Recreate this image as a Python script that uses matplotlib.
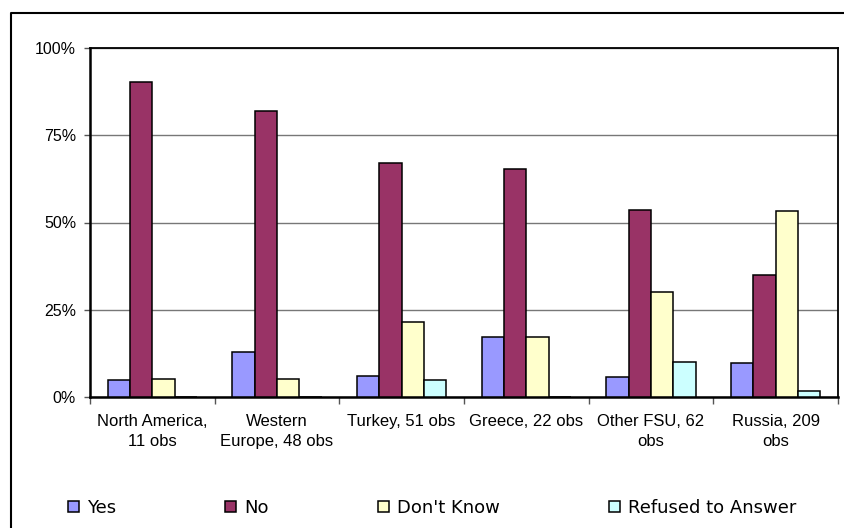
import numpy as np
import matplotlib.pyplot as plt
from matplotlib.lines import Line2D
from matplotlib.ticker import FixedLocator, PercentFormatter

plt.rcParams['font.family'] = ['Liberation Sans', 'DejaVu Sans']

regions = ['North America,\n11 obs', 'Western\nEurope, 48 obs', 'Turkey, 51 obs',
           'Greece, 22 obs', 'Other FSU, 62\nobs', 'Russia, 209\nobs']
answers = ['Yes', 'No', "Don't Know", 'Refused to Answer']
yes = [4.9, 12.8, 6.1, 17.2, 5.6, 9.6]
no = [90.3, 81.9, 67.0, 65.2, 53.7, 35.0]
dont_know = [5.2, 5.2, 21.6, 17.2, 30.2, 53.3]
refused = [0.0, 0.0, 4.9, 0.0, 10.1, 1.7]
colors = ['#9999FF', '#993366', '#FFFFCC', '#CCFFFF']

fig = plt.figure(figsize=(8.45, 5.28), dpi=100)
ax = fig.add_axes([90/845, 1 - 397/528, (838 - 90)/845, (397 - 48)/528])

x = np.arange(len(regions))
w = 0.179
series = [yes, no, dont_know, refused]
for i, (vals, c, lab) in enumerate(zip(series, colors, answers)):
    ax.bar(x + (i - 1.5) * w, vals, width=w, color=c, edgecolor='black',
           linewidth=1.1, label=lab, zorder=3)

ax.set_xlim(-0.5, len(regions) - 0.5)
ax.set_ylim(0, 100)
ax.set_yticks([0, 25, 50, 75, 100])
ax.yaxis.set_major_formatter(PercentFormatter(decimals=0))
ax.tick_params(axis='y', length=4, width=1, color='#555555', pad=6, labelsize=11.5)
ax.grid(axis='y', color='#777777', linewidth=1, zorder=0)

# boundaries between regions get tick marks, centers get the labels
ax.xaxis.set_major_locator(FixedLocator(np.arange(-0.5, len(regions), 1.0)))
ax.xaxis.set_minor_locator(FixedLocator(x))
ax.set_xticklabels([], minor=False)
ax.set_xticklabels(regions, minor=True, fontsize=12, linespacing=1.45)
ax.tick_params(axis='x', which='major', length=5, width=1, color='#555555')
ax.tick_params(axis='x', which='minor', length=0, pad=12)

for s in ax.spines.values():
    s.set_color('black')
    s.set_linewidth(1.3)
ax.spines['left'].set_linewidth(1.8)
ax.spines['bottom'].set_linewidth(1.8)

fig.legend(loc='center left', bbox_to_anchor=(68/845, 1 - 508/528), ncol=4,
           frameon=False, borderpad=0, borderaxespad=0,
           handlelength=0.6, handleheight=0.6, handletextpad=0.45,
           columnspacing=6.05, prop={'family': 'DejaVu Sans', 'size': 13})

# outer chart frame
fig.add_artist(Line2D([11/845, 11/845, 1.0], [0.0, 1 - 12.5/528, 1 - 12.5/528],
                      transform=fig.transFigure, color='black', linewidth=1.5))

fig.savefig('out.png', dpi=100)
